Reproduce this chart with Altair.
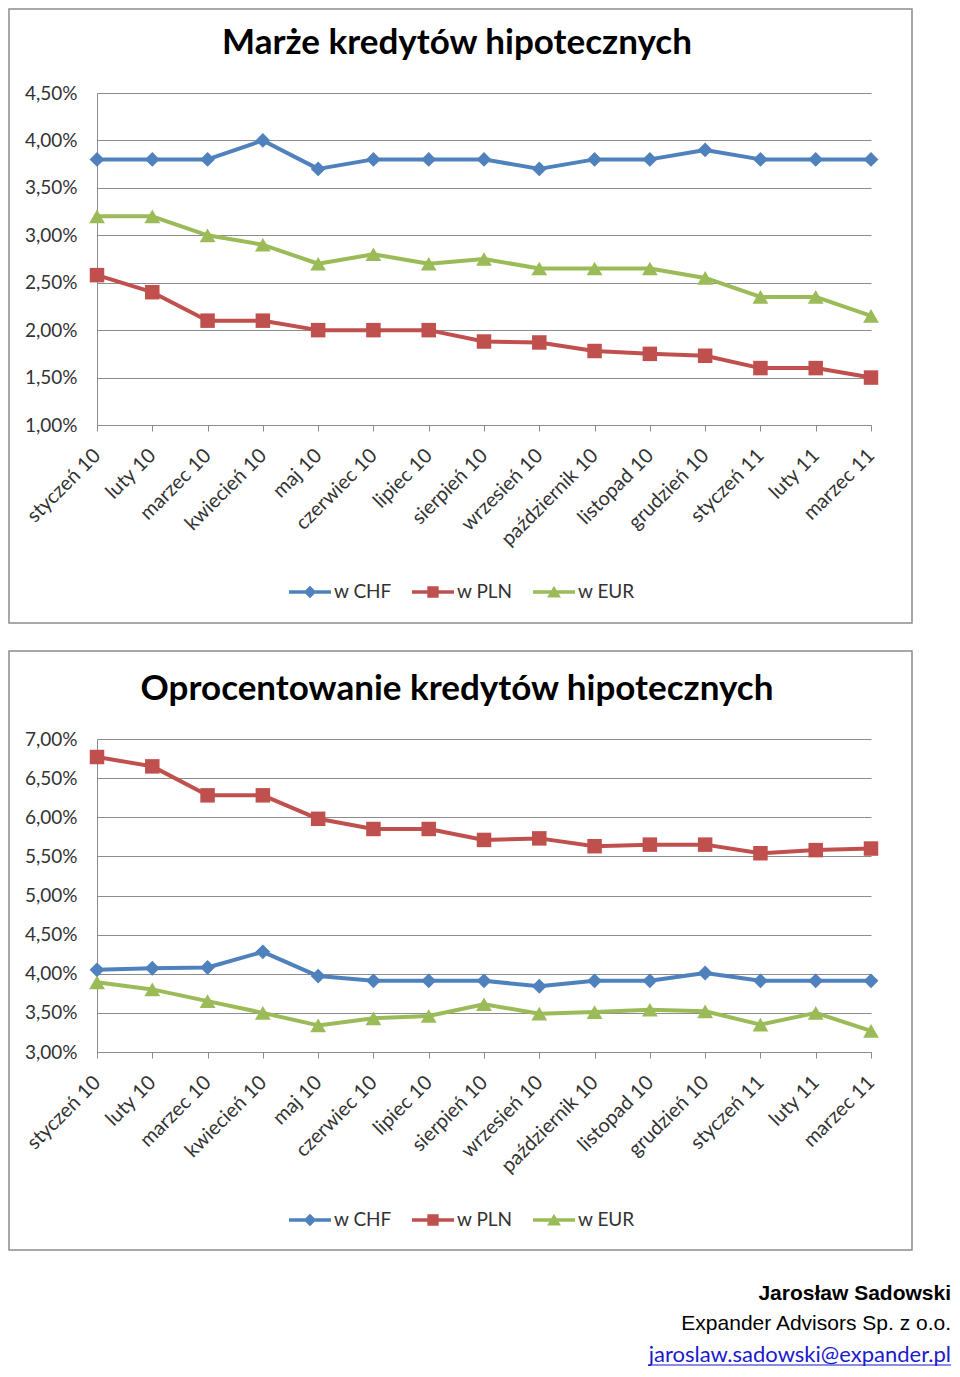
import altair as alt
import pandas as pd

months = ["styczeń 10", "luty 10", "marzec 10", "kwiecień 10", "maj 10", "czerwiec 10",
          "lipiec 10", "sierpień 10", "wrzesień 10", "październik 10", "listopad 10",
          "grudzień 10", "styczeń 11", "luty 11", "marzec 11"]
series = ["w CHF", "w PLN", "w EUR"]
colors = ["#4F81BD", "#C0504D", "#9BBB59"]
shapes = ["diamond", "square", "triangle-up"]

marza_chf = [3.80, 3.80, 3.80, 4.00, 3.70, 3.80, 3.80, 3.80, 3.70, 3.80, 3.80, 3.90, 3.80, 3.80, 3.80]
marza_pln = [2.58, 2.40, 2.10, 2.10, 2.00, 2.00, 2.00, 1.88, 1.87, 1.78, 1.75, 1.73, 1.60, 1.60, 1.50]
marza_eur = [3.20, 3.20, 3.00, 2.90, 2.70, 2.80, 2.70, 2.75, 2.65, 2.65, 2.65, 2.55, 2.35, 2.35, 2.15]

opr_chf = [4.05, 4.07, 4.08, 4.28, 3.97, 3.91, 3.91, 3.91, 3.84, 3.91, 3.91, 4.01, 3.91, 3.91, 3.91]
opr_pln = [6.77, 6.65, 6.28, 6.28, 5.98, 5.85, 5.85, 5.71, 5.73, 5.63, 5.65, 5.65, 5.54, 5.58, 5.60]
opr_eur = [3.89, 3.80, 3.65, 3.50, 3.34, 3.43, 3.46, 3.61, 3.49, 3.51, 3.54, 3.52, 3.35, 3.50, 3.27]

ticks_marza = [1.0, 1.5, 2.0, 2.5, 3.0, 3.5, 4.0, 4.5]
ticks_opr = [3.0, 3.5, 4.0, 4.5, 5.0, 5.5, 6.0, 6.5, 7.0]

# legend symbols: line segment + marker (unit coordinates)
legend_paths = [
    "M-1,-0.08H1V0.08H-1Z M0,-0.3L0.3,0L0,0.3L-0.3,0Z",
    "M-1,-0.08H1V0.08H-1Z M-0.27,-0.27H0.27V0.27H-0.27Z",
    "M-1,-0.08H1V0.08H-1Z M0,-0.3L0.33,0.26H-0.33Z",
]

FONT = "Lato"
GRAY = "#8c8c8c"
TXT = "#333333"
PLOT_W = 774


def panel(title, chf, pln, eur, ticks, height, frame_top, frame_bottom, legend_y, extra=None):
    df = pd.DataFrame({
        "miesiac": months * 3,
        "seria": [s for s in series for _ in months],
        "wartosc": chf + pln + eur,
    })
    x = alt.X("miesiac:N", sort=months, title=None,
              scale=alt.Scale(type="point", padding=0),
              axis=alt.Axis(labelAngle=-45, labelFont=FONT, labelFontSize=20,
                            labelColor=TXT, tickSize=6, tickColor=GRAY,
                            domainColor=GRAY, labelPadding=21, grid=False,
                            labelAlign="right", labelBaseline="middle"))
    y = alt.Y("wartosc:Q", title=None,
              scale=alt.Scale(domain=[ticks[0], ticks[-1]], nice=False, zero=False),
              axis=alt.Axis(values=ticks, ticks=False, labelPadding=20,
                            labelFont=FONT, labelFontSize=19, labelColor=TXT,
                            labelExpr="replace(format(datum.value, '.2f'), '.', ',') + '%'",
                            grid=True, gridColor=GRAY, gridWidth=1,
                            domainColor=GRAY))
    base = alt.Chart(df)
    one = pd.DataFrame({"k": [0]})

    frame = alt.Chart(one).mark_rect(
        fill="white", fillOpacity=0, stroke=GRAY, strokeWidth=1.5
    ).encode(x=alt.value(-88), x2=alt.value(815),
             y=alt.value(frame_top), y2=alt.value(frame_bottom))

    title_mark = alt.Chart(one).mark_text(
        text=title, font=FONT, fontSize=35, fontWeight="bold", color="black",
        align="center", baseline="alphabetic"
    ).encode(x=alt.value(360), y=alt.value(-39))

    lines, markers = [], []
    sizes = [220, 210, 250]
    for s, c, sh, sz in zip(series, colors, shapes, sizes):
        sub = base.transform_filter(alt.datum.seria == s)
        lines.append(sub.mark_line(strokeWidth=4, strokeJoin="round", color=c).encode(x=x, y=y))
        markers.append(sub.mark_point(shape=sh, filled=True, size=sz, color=c, opacity=1)
                       .encode(x=x, y=y))
    leg = alt.Legend(orient="none", legendX=192, legendY=legend_y, direction="horizontal",
                     title=None, symbolSize=1764, symbolStrokeWidth=0,
                     labelFont=FONT, labelFontSize=19, labelColor=TXT,
                     labelOffset=3, columnPadding=20, symbolOpacity=1)
    legend_layer = base.transform_filter("false").mark_point(filled=True, opacity=1).encode(
        x=x, y=y,
        color=alt.Color("seria:N", scale=alt.Scale(domain=series, range=colors), legend=leg),
        shape=alt.Shape("seria:N", scale=alt.Scale(domain=series, range=legend_paths), legend=leg),
    )
    layers = [frame, title_mark] + lines + markers + [legend_layer]
    if extra:
        layers += extra
    return alt.layer(*layers).properties(width=PLOT_W, height=height)


FX = 854
footer_df = pd.DataFrame({"k": [0]})
footer = [
    alt.Chart(footer_df).mark_text(text="Jarosław Sadowski", font="Liberation Sans",
                                   fontSize=21, fontWeight="bold", color="black",
                                   align="right", baseline="alphabetic")
    .encode(x=alt.value(FX), y=alt.value(561)),
    alt.Chart(footer_df).mark_text(text="Expander Advisors Sp. z o.o.", font="Liberation Sans",
                                   fontSize=21, color="black",
                                   align="right", baseline="alphabetic")
    .encode(x=alt.value(FX), y=alt.value(591)),
    alt.Chart(footer_df).mark_text(text="jaroslaw.sadowski@expander.pl", font=FONT,
                                   fontSize=22, color="#1a1acc",
                                   align="right", baseline="alphabetic")
    .encode(x=alt.value(FX), y=alt.value(623)),
    alt.Chart(footer_df).mark_rule(color="#1a1acc", strokeWidth=1.2)
    .encode(x=alt.value(FX - 303), x2=alt.value(FX), y=alt.value(626)),
]

p1 = panel("Marże kredytów hipotecznych", marza_chf, marza_pln, marza_eur,
           ticks_marza, 332, -84, 530, 478)
p2 = panel("Oprocentowanie kredytów hipotecznych", opr_chf, opr_pln, opr_eur,
           ticks_opr, 313, -88, 511, 460, extra=footer)

chart = alt.vconcat(p1, p2, spacing=314, bounds="flush").resolve_scale(
    color="independent", shape="independent", x="independent", y="independent"
).resolve_legend(color="independent", shape="independent").properties(
    padding=0, background="white"
).configure_view(strokeWidth=0)

chart.save("out.html", embed_options={"renderer": "svg", "actions": False})
